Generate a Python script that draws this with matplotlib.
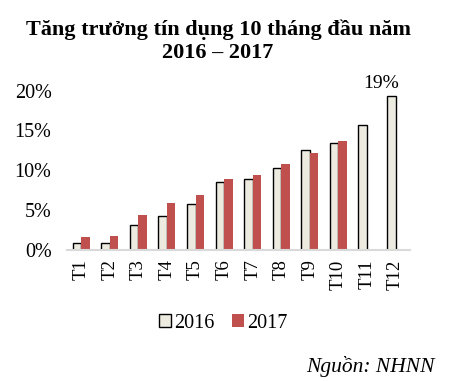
import matplotlib
matplotlib.use('Agg')
import matplotlib.pyplot as plt
import numpy as np

# data (%)
months = ['T1', 'T2', 'T3', 'T4', 'T5', 'T6', 'T7', 'T8', 'T9', 'T10', 'T11', 'T12']
growth_2016 = [0.84, 0.84, 3.14, 4.28, 5.70, 8.47, 8.89, 10.23, 12.58, 13.38, 15.72, 19.29]
growth_2017 = [1.60, 1.76, 4.36, 5.87, 6.88, 8.85, 9.43, 10.73, 12.16, 13.67]
yticks = [0, 5, 10, 15, 20]

plt.rcParams['font.family'] = ['Liberation Serif', 'DejaVu Serif']

fig = plt.figure(figsize=(4.58, 3.81), dpi=100)
ax = fig.add_axes([0.146, 0.345, 0.749, 0.417])

x = np.arange(len(months))
w = 0.3
ax.bar(x[:len(growth_2016)] - w / 2, growth_2016, w, color='#EDEBE0',
       edgecolor='black', linewidth=1.0, label='2016')
ax.bar(x[:len(growth_2017)] + w / 2, growth_2017, w, color='#C0504D',
       edgecolor='none', label='2017')

ax.text(x[-1] - w / 2 - 0.35, growth_2016[-1] + 0.5, '19%', ha='center', va='bottom', fontsize=14)

ax.set_xlim(-0.5, len(months) - 0.5)
ax.set_ylim(0, 20)
ax.set_yticks(yticks)
ax.set_yticklabels([f'{t}%' for t in yticks], fontsize=14.5)
ax.set_xticks(x)
ax.set_xticklabels(months, rotation=90, fontsize=13.5)
ax.tick_params(axis='x', length=0, pad=7)
ax.tick_params(axis='y', length=0, pad=11)
for s in ['top', 'right', 'left']:
    ax.spines[s].set_visible(False)
ax.spines['bottom'].set_color('#D9D9D9')
ax.spines['bottom'].set_linewidth(1.5)

fig.text(0.476, 0.95, 'Tăng trưởng tín dụng 10 tháng đầu năm\n2016 – 2017',
         ha='center', va='top', fontsize=16, fontweight='bold', linespacing=1.2)

ax.legend(loc='center', bbox_to_anchor=(0.4873, 0.152), bbox_transform=fig.transFigure,
          ncol=2, frameon=False, fontsize=14.5, handlelength=0.6, handleheight=0.6,
          handletextpad=0.15, columnspacing=0.9)

fig.text(0.95, 0.01, 'Nguồn: NHNN', ha='right', va='bottom', fontsize=15.5, style='italic')

fig.savefig('out.png', dpi=100)
